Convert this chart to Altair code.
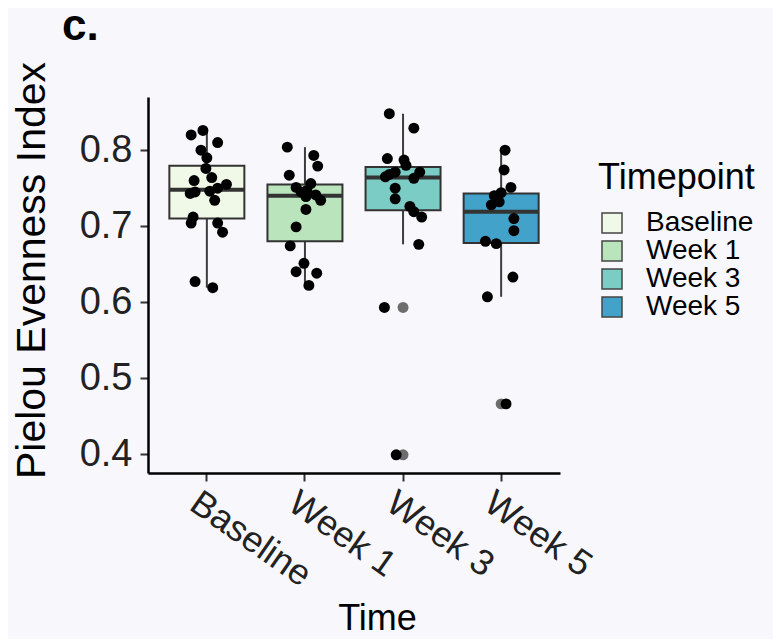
import altair as alt
import pandas as pd

groups = ["Baseline", "Week 1", "Week 3", "Week 5"]
colors = ["#f0f9e8", "#bae4bc", "#7bccc4", "#43a2ca"]
panel_label = ["c."]

baseline_vals = [0.826, 0.820, 0.810, 0.800, 0.790, 0.776, 0.764, 0.760, 0.755, 0.750,
                 0.746, 0.745, 0.743, 0.734, 0.712, 0.704, 0.704, 0.692, 0.627, 0.619]
baseline_jit = [-0.04, -0.16, 0.11, -0.06, 0.00, -0.01, 0.05, -0.13, 0.20, 0.11,
                0.03, -0.12, -0.17, 0.08, -0.14, -0.16, 0.11, 0.16, -0.12, 0.06]

week1_vals = [0.804, 0.793, 0.779, 0.767, 0.756, 0.751, 0.747, 0.745, 0.741, 0.739,
              0.734, 0.722, 0.699, 0.674, 0.651, 0.640, 0.638, 0.622]
week1_jit = [-0.18, 0.09, 0.13, -0.16, 0.06, -0.09, 0.02, -0.04, 0.11, 0.01,
             0.16, 0.01, -0.09, -0.15, -0.01, -0.09, 0.12, 0.04]

week3_vals = [0.848, 0.829, 0.789, 0.787, 0.780, 0.771, 0.771, 0.768, 0.765, 0.763,
              0.750, 0.736, 0.726, 0.719, 0.712, 0.676, 0.593, 0.399]
week3_jit = [-0.14, 0.11, -0.16, 0.01, 0.03, -0.08, 0.17, -0.14, -0.18, 0.11,
             -0.08, -0.08, 0.07, 0.11, 0.19, 0.16, -0.19, -0.07]

week5_vals = [0.800, 0.774, 0.751, 0.744, 0.740, 0.732, 0.728, 0.710, 0.694, 0.680,
              0.677, 0.633, 0.607, 0.466]
week5_jit = [0.04, 0.03, 0.10, 0.00, -0.07, -0.02, -0.10, 0.13, 0.13, -0.16,
             -0.05, 0.12, -0.14, 0.05]

y_ticks = [0.4, 0.5, 0.6, 0.7, 0.8]

rows = []
for g, vals, jit in zip(groups,
                        [baseline_vals, week1_vals, week3_vals, week5_vals],
                        [baseline_jit, week1_jit, week3_jit, week5_jit]):
    for v, j in zip(vals, jit):
        rows.append({"time": g, "value": v, "jitter": j})
df = pd.DataFrame(rows)

FONT = "Liberation Sans"

x_enc = alt.X(
    "time:N",
    sort=groups,
    scale=alt.Scale(domain=groups, paddingInner=0, paddingOuter=0.1),
    axis=alt.Axis(
        title="Time", titleFontSize=36, titleFontWeight="normal", titleColor="black",
        titleX=229, titleY=156, titleBaseline="alphabetic", titleAlign="center",
        labelFontSize=36, labelAngle=35, labelAlign="left", labelBaseline="top",
        labelPadding=4, labelOffset=-3, labelColor="#222222",
        tickSize=8, tickWidth=2, tickColor="#333333",
        domainColor="black", domainWidth=2.5,
    ),
)

y_scale = alt.Scale(domain=[0.375, 0.87], nice=False, zero=False)
y_axis = alt.Axis(
    title="Pielou Evenness Index", titleFontSize=41, titleFontWeight="normal",
    titleColor="black", titleX=-104, titleY=173, titleBaseline="alphabetic",
    titleAlign="center", titleAngle=270,
    values=y_ticks, format=".1f", labelFontSize=38, labelColor="#222222",
    labelPadding=8, tickSize=8, tickWidth=2, tickColor="#333333",
    domainColor="black", domainWidth=2.5, grid=False,
)


def yq(field):
    return alt.Y(field, scale=y_scale, axis=y_axis)


base = alt.Chart(df)

fences = base.transform_joinaggregate(
    q1="q1(value)", q3="q3(value)", groupby=["time"]
).transform_calculate(
    lo="datum.q1 - 1.5 * (datum.q3 - datum.q1)",
    hi="datum.q3 + 1.5 * (datum.q3 - datum.q1)",
)

whisk = fences.transform_filter(
    "datum.value >= datum.lo && datum.value <= datum.hi"
).transform_aggregate(
    wmin="min(value)", wmax="max(value)", groupby=["time"]
).mark_rule(color="#3d3d3d", strokeWidth=2).encode(
    x=x_enc, y=yq("wmin:Q"), y2="wmax:Q"
)

stats = base.transform_aggregate(
    q1="q1(value)", q3="q3(value)", med="median(value)", groupby=["time"]
)

box = stats.mark_bar(size=75, stroke="#333333", strokeWidth=2).encode(
    x=x_enc,
    y=yq("q1:Q"),
    y2="q3:Q",
    color=alt.Color(
        "time:N",
        scale=alt.Scale(domain=groups, range=colors),
        legend=alt.Legend(
            title="Timepoint", titleFontSize=36, titleFontWeight="normal",
            titleColor="black", labelFontSize=28, labelColor="black",
            orient="none", legendX=450, legendY=64,
            symbolType="square", symbolSize=400, symbolStrokeColor="#444444",
            symbolStrokeWidth=1.5, symbolOpacity=1, rowPadding=0,
            titlePadding=12, labelOffset=20,
        ),
    ),
)

med = stats.mark_tick(size=75, thickness=4, color="#333333", opacity=1).encode(
    x=x_enc, y=yq("med:Q")
)

outl = fences.transform_filter(
    "datum.value < datum.lo || datum.value > datum.hi"
).mark_circle(size=120, color="#555555", opacity=0.85).encode(
    x=x_enc, y=yq("value:Q")
)

pts = base.mark_circle(size=120, color="black", opacity=1).encode(
    x=x_enc,
    xOffset=alt.XOffset("jitter:Q", scale=alt.Scale(domain=[-0.5, 0.5])),
    y=yq("value:Q"),
)

label = alt.Chart(pd.DataFrame({"label": panel_label})).mark_text(
    align="left", baseline="alphabetic", fontSize=44, fontWeight="bold",
    color="black", font=FONT,
).encode(x=alt.value(-86), y=alt.value(-57), text="label:N")

chart = alt.layer(whisk, box, med, outl, pts, label).properties(
    width=412,
    height=376,
    autosize=alt.AutoSizeParams(type="none"),
    padding={"left": 140, "top": 89, "right": 213, "bottom": 166},
).configure(
    font=FONT, background="#f8f8fc"
).configure_view(stroke=None)

chart.save("out.html", embed_options={"renderer": "svg", "actions": False})
